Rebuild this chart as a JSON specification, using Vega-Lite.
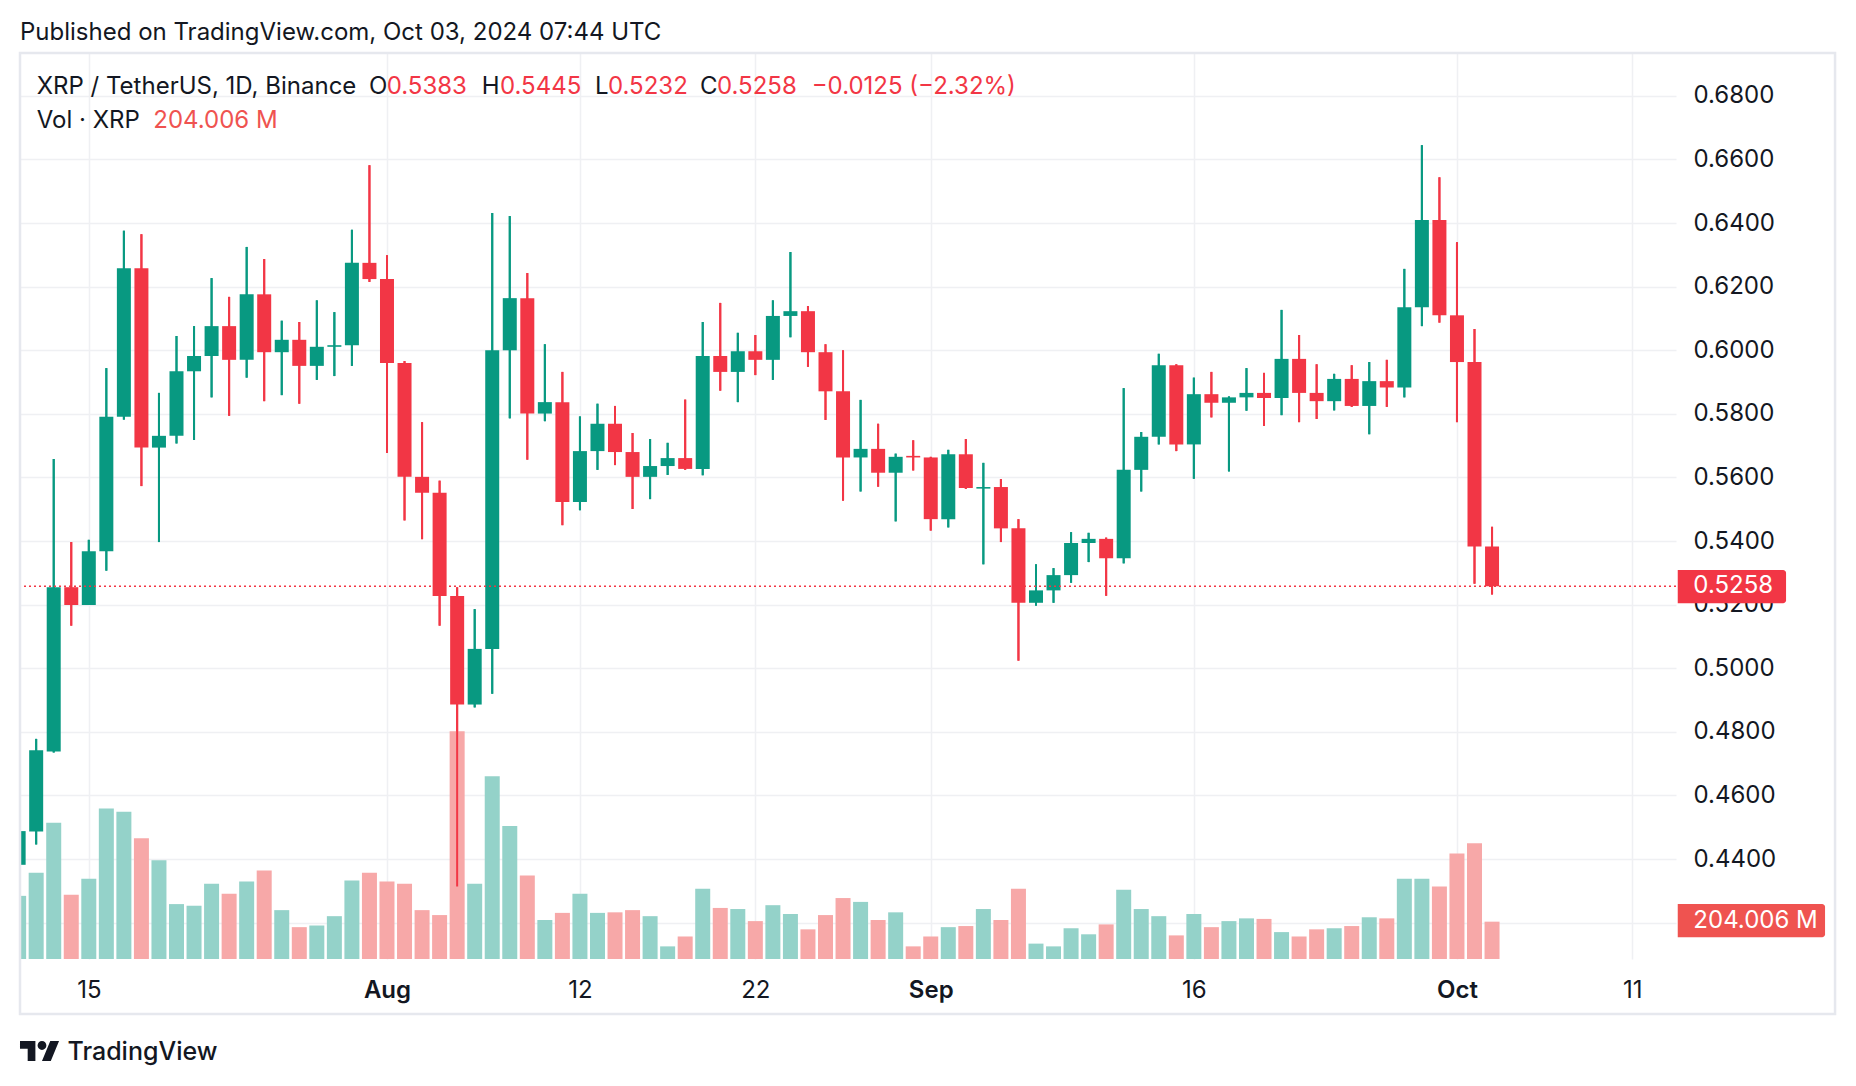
{
  "$schema": "https://vega.github.io/schema/vega-lite/v6.json",
  "width": 1656,
  "height": 906,
  "autosize": "none",
  "padding": {"left": 20, "top": 53, "right": 180, "bottom": 127},
  "background": "white",
  "config": {
    "view": {"stroke": null},
    "font": "Inter",
    "text": {"font": "Inter"},
    "scale": {"continuousPadding": 0}
  },
  "datasets": {
    "candles": [
      {"date": "2024-07-11", "o": 0.4382, "h": 0.4510, "l": 0.4360, "c": 0.4488, "vol": 345},
      {"date": "2024-07-12", "o": 0.4487, "h": 0.4778, "l": 0.4446, "c": 0.4742, "vol": 471},
      {"date": "2024-07-13", "o": 0.4738, "h": 0.5658, "l": 0.4735, "c": 0.5255, "vol": 744},
      {"date": "2024-07-14", "o": 0.5255, "h": 0.5397, "l": 0.5134, "c": 0.5199, "vol": 351},
      {"date": "2024-07-15", "o": 0.5199, "h": 0.5404, "l": 0.5199, "c": 0.5368, "vol": 438},
      {"date": "2024-07-16", "o": 0.5368, "h": 0.5944, "l": 0.5307, "c": 0.5791, "vol": 822},
      {"date": "2024-07-17", "o": 0.5791, "h": 0.6376, "l": 0.5782, "c": 0.6258, "vol": 804},
      {"date": "2024-07-18", "o": 0.6258, "h": 0.6365, "l": 0.5573, "c": 0.5694, "vol": 660},
      {"date": "2024-07-19", "o": 0.5694, "h": 0.5866, "l": 0.5397, "c": 0.5731, "vol": 540},
      {"date": "2024-07-20", "o": 0.5731, "h": 0.6045, "l": 0.5707, "c": 0.5934, "vol": 300},
      {"date": "2024-07-21", "o": 0.5934, "h": 0.6076, "l": 0.5718, "c": 0.5982, "vol": 291},
      {"date": "2024-07-22", "o": 0.5982, "h": 0.6227, "l": 0.5852, "c": 0.6076, "vol": 411},
      {"date": "2024-07-23", "o": 0.6076, "h": 0.6168, "l": 0.5794, "c": 0.5970, "vol": 357},
      {"date": "2024-07-24", "o": 0.5970, "h": 0.6325, "l": 0.5914, "c": 0.6176, "vol": 423},
      {"date": "2024-07-25", "o": 0.6176, "h": 0.6287, "l": 0.5840, "c": 0.5994, "vol": 483},
      {"date": "2024-07-26", "o": 0.5994, "h": 0.6093, "l": 0.5859, "c": 0.6033, "vol": 267},
      {"date": "2024-07-27", "o": 0.6033, "h": 0.6089, "l": 0.5832, "c": 0.5951, "vol": 174},
      {"date": "2024-07-28", "o": 0.5951, "h": 0.6157, "l": 0.5907, "c": 0.6011, "vol": 183},
      {"date": "2024-07-29", "o": 0.6011, "h": 0.6120, "l": 0.5919, "c": 0.6016, "vol": 234},
      {"date": "2024-07-30", "o": 0.6016, "h": 0.6379, "l": 0.5951, "c": 0.6275, "vol": 429},
      {"date": "2024-07-31", "o": 0.6275, "h": 0.6582, "l": 0.6215, "c": 0.6224, "vol": 471},
      {"date": "2024-08-01", "o": 0.6224, "h": 0.6299, "l": 0.5677, "c": 0.5960, "vol": 423},
      {"date": "2024-08-02", "o": 0.5960, "h": 0.5966, "l": 0.5465, "c": 0.5602, "vol": 411},
      {"date": "2024-08-03", "o": 0.5602, "h": 0.5774, "l": 0.5406, "c": 0.5552, "vol": 267},
      {"date": "2024-08-04", "o": 0.5552, "h": 0.5590, "l": 0.5134, "c": 0.5227, "vol": 240},
      {"date": "2024-08-05", "o": 0.5227, "h": 0.5255, "l": 0.4314, "c": 0.4886, "vol": 1245},
      {"date": "2024-08-06", "o": 0.4886, "h": 0.5186, "l": 0.4877, "c": 0.5061, "vol": 411},
      {"date": "2024-08-07", "o": 0.5061, "h": 0.6432, "l": 0.4920, "c": 0.6000, "vol": 999},
      {"date": "2024-08-08", "o": 0.6000, "h": 0.6422, "l": 0.5786, "c": 0.6164, "vol": 726},
      {"date": "2024-08-09", "o": 0.6164, "h": 0.6243, "l": 0.5656, "c": 0.5801, "vol": 456},
      {"date": "2024-08-10", "o": 0.5801, "h": 0.6019, "l": 0.5777, "c": 0.5837, "vol": 213},
      {"date": "2024-08-11", "o": 0.5837, "h": 0.5932, "l": 0.5450, "c": 0.5523, "vol": 252},
      {"date": "2024-08-12", "o": 0.5523, "h": 0.5792, "l": 0.5497, "c": 0.5683, "vol": 357},
      {"date": "2024-08-13", "o": 0.5683, "h": 0.5832, "l": 0.5624, "c": 0.5769, "vol": 252},
      {"date": "2024-08-14", "o": 0.5769, "h": 0.5825, "l": 0.5639, "c": 0.5680, "vol": 255},
      {"date": "2024-08-15", "o": 0.5680, "h": 0.5740, "l": 0.5501, "c": 0.5602, "vol": 267},
      {"date": "2024-08-16", "o": 0.5602, "h": 0.5721, "l": 0.5532, "c": 0.5636, "vol": 234},
      {"date": "2024-08-17", "o": 0.5636, "h": 0.5709, "l": 0.5608, "c": 0.5661, "vol": 69},
      {"date": "2024-08-18", "o": 0.5661, "h": 0.5845, "l": 0.5624, "c": 0.5627, "vol": 123},
      {"date": "2024-08-19", "o": 0.5627, "h": 0.6089, "l": 0.5607, "c": 0.5982, "vol": 384},
      {"date": "2024-08-20", "o": 0.5982, "h": 0.6149, "l": 0.5873, "c": 0.5932, "vol": 279},
      {"date": "2024-08-21", "o": 0.5932, "h": 0.6055, "l": 0.5837, "c": 0.5997, "vol": 273},
      {"date": "2024-08-22", "o": 0.5997, "h": 0.6048, "l": 0.5922, "c": 0.5970, "vol": 207},
      {"date": "2024-08-23", "o": 0.5970, "h": 0.6157, "l": 0.5907, "c": 0.6108, "vol": 294},
      {"date": "2024-08-24", "o": 0.6108, "h": 0.6309, "l": 0.6041, "c": 0.6123, "vol": 246},
      {"date": "2024-08-25", "o": 0.6123, "h": 0.6139, "l": 0.5948, "c": 0.5994, "vol": 162},
      {"date": "2024-08-26", "o": 0.5994, "h": 0.6019, "l": 0.5781, "c": 0.5871, "vol": 240},
      {"date": "2024-08-27", "o": 0.5871, "h": 0.6000, "l": 0.5527, "c": 0.5663, "vol": 333},
      {"date": "2024-08-28", "o": 0.5663, "h": 0.5844, "l": 0.5556, "c": 0.5690, "vol": 312},
      {"date": "2024-08-29", "o": 0.5690, "h": 0.5769, "l": 0.5571, "c": 0.5615, "vol": 213},
      {"date": "2024-08-30", "o": 0.5615, "h": 0.5675, "l": 0.5462, "c": 0.5665, "vol": 255},
      {"date": "2024-08-31", "o": 0.5668, "h": 0.5717, "l": 0.5622, "c": 0.5663, "vol": 69},
      {"date": "2024-09-01", "o": 0.5663, "h": 0.5665, "l": 0.5433, "c": 0.5469, "vol": 123},
      {"date": "2024-09-02", "o": 0.5469, "h": 0.5687, "l": 0.5443, "c": 0.5673, "vol": 174},
      {"date": "2024-09-03", "o": 0.5673, "h": 0.5721, "l": 0.5564, "c": 0.5567, "vol": 180},
      {"date": "2024-09-04", "o": 0.5565, "h": 0.5646, "l": 0.5327, "c": 0.5570, "vol": 273},
      {"date": "2024-09-05", "o": 0.5570, "h": 0.5595, "l": 0.5397, "c": 0.5440, "vol": 213},
      {"date": "2024-09-06", "o": 0.5440, "h": 0.5469, "l": 0.5024, "c": 0.5206, "vol": 384},
      {"date": "2024-09-07", "o": 0.5206, "h": 0.5327, "l": 0.5197, "c": 0.5245, "vol": 84},
      {"date": "2024-09-08", "o": 0.5245, "h": 0.5315, "l": 0.5206, "c": 0.5293, "vol": 69},
      {"date": "2024-09-09", "o": 0.5293, "h": 0.5428, "l": 0.5269, "c": 0.5394, "vol": 168},
      {"date": "2024-09-10", "o": 0.5394, "h": 0.5426, "l": 0.5334, "c": 0.5407, "vol": 135},
      {"date": "2024-09-11", "o": 0.5407, "h": 0.5411, "l": 0.5228, "c": 0.5346, "vol": 189},
      {"date": "2024-09-12", "o": 0.5346, "h": 0.5881, "l": 0.5330, "c": 0.5624, "vol": 378},
      {"date": "2024-09-13", "o": 0.5624, "h": 0.5743, "l": 0.5556, "c": 0.5728, "vol": 273},
      {"date": "2024-09-14", "o": 0.5728, "h": 0.5989, "l": 0.5704, "c": 0.5953, "vol": 234},
      {"date": "2024-09-15", "o": 0.5953, "h": 0.5956, "l": 0.5683, "c": 0.5704, "vol": 129},
      {"date": "2024-09-16", "o": 0.5704, "h": 0.5914, "l": 0.5596, "c": 0.5862, "vol": 246},
      {"date": "2024-09-17", "o": 0.5862, "h": 0.5932, "l": 0.5789, "c": 0.5835, "vol": 174},
      {"date": "2024-09-18", "o": 0.5835, "h": 0.5855, "l": 0.5619, "c": 0.5852, "vol": 207},
      {"date": "2024-09-19", "o": 0.5852, "h": 0.5944, "l": 0.5810, "c": 0.5866, "vol": 222},
      {"date": "2024-09-20", "o": 0.5866, "h": 0.5929, "l": 0.5762, "c": 0.5850, "vol": 219},
      {"date": "2024-09-21", "o": 0.5850, "h": 0.6127, "l": 0.5796, "c": 0.5973, "vol": 147},
      {"date": "2024-09-22", "o": 0.5973, "h": 0.6048, "l": 0.5774, "c": 0.5866, "vol": 123},
      {"date": "2024-09-23", "o": 0.5866, "h": 0.5956, "l": 0.5784, "c": 0.5840, "vol": 162},
      {"date": "2024-09-24", "o": 0.5840, "h": 0.5926, "l": 0.5811, "c": 0.5910, "vol": 168},
      {"date": "2024-09-25", "o": 0.5910, "h": 0.5953, "l": 0.5822, "c": 0.5825, "vol": 180},
      {"date": "2024-09-26", "o": 0.5825, "h": 0.5963, "l": 0.5736, "c": 0.5903, "vol": 228},
      {"date": "2024-09-27", "o": 0.5903, "h": 0.5970, "l": 0.5822, "c": 0.5883, "vol": 222},
      {"date": "2024-09-28", "o": 0.5883, "h": 0.6256, "l": 0.5852, "c": 0.6135, "vol": 438},
      {"date": "2024-09-29", "o": 0.6135, "h": 0.6645, "l": 0.6076, "c": 0.6410, "vol": 438},
      {"date": "2024-09-30", "o": 0.6410, "h": 0.6544, "l": 0.6087, "c": 0.6110, "vol": 396},
      {"date": "2024-10-01", "o": 0.6110, "h": 0.6340, "l": 0.5774, "c": 0.5963, "vol": 576},
      {"date": "2024-10-02", "o": 0.5963, "h": 0.6067, "l": 0.5266, "c": 0.5383, "vol": 633},
      {"date": "2024-10-03", "o": 0.5383, "h": 0.5445, "l": 0.5232, "c": 0.5258, "vol": 204.006}
    ]
  },
  "layer": [
    {
      "data": {"name": "candles"},
      "mark": {"type": "rule", "strokeWidth": 2, "clip": true},
      "encoding": {
        "x": {"field": "date", "type": "temporal", "title": null,
              "scale": {"type": "utc", "padding": 0, "domain": [{"year": 2024, "month": 7, "date": 11, "hours": 1, "minutes": 52, "utc": true}, {"year": 2024, "month": 10, "date": 13, "hours": 11, "minutes": 42, "utc": true}]},
              "axis": {
                "orient": "bottom",
                "values": [
                  {"year": 2024, "month": 7, "date": 15, "utc": true},
                  {"year": 2024, "month": 8, "date": 1, "utc": true},
                  {"year": 2024, "month": 8, "date": 12, "utc": true},
                  {"year": 2024, "month": 8, "date": 22, "utc": true},
                  {"year": 2024, "month": 9, "date": 1, "utc": true},
                  {"year": 2024, "month": 9, "date": 16, "utc": true},
                  {"year": 2024, "month": 10, "date": 1, "utc": true},
                  {"year": 2024, "month": 10, "date": 11, "utc": true}
                ],
                "labelExpr": "utcdate(datum.value) == 1 ? utcFormat(datum.value, '%b') : utcFormat(datum.value, '%-d')",
                "labelFontWeight": {"condition": {"test": "utcdate(datum.value) == 1", "value": 600}, "value": 400},
                "labelFont": "Inter",
                "labelFontSize": 24,
                "labelColor": "#131722",
                "labelBaseline": "top",
                "labelPadding": 19,
                "labelAlign": "center",
                "labelOverlap": false,
                "labelFlush": false,
                "ticks": false,
                "domain": false,
                "grid": true,
                "gridColor": "#EFF0F3",
                "gridWidth": 1.5,
                "title": null
              }},
        "y": {"field": "l", "type": "quantitative", "title": null,
              "scale": {"domain": [0.40858, 0.69349], "zero": false, "nice": false},
              "axis": {
                "orient": "right",
                "values": [0.42, 0.44, 0.46, 0.48, 0.5, 0.52, 0.54, 0.56, 0.58, 0.6, 0.62, 0.64, 0.66, 0.68],
                "labelExpr": "datum.value < 0.43 ? '' : format(datum.value, '.4f')",
                "labelFont": "Inter",
                "labelFontSize": 24,
                "labelColor": "#131722",
                "labelPadding": 17,
                "labelAlign": "left",
                "labelBaseline": "middle",
                "ticks": false,
                "domain": false,
                "grid": true,
                "gridColor": "#EFF0F3",
                "gridWidth": 1.5,
                "title": null
              }},
        "y2": {"field": "h"},
        "color": {"condition": {"test": "datum.c >= datum.o", "value": "#089981"}, "value": "#F23645"}
      }
    },
    {
      "data": {"name": "candles"},
      "mark": {"type": "bar", "width": 15, "clip": true},
      "encoding": {
        "x": {"field": "date", "type": "temporal", "axis": null},
        "y": {"field": "vol", "type": "quantitative", "axis": null, "scale": {"domain": [0, 4950], "nice": false}},
        "color": {"condition": {"test": "datum.c >= datum.o", "value": "#94D2C9"}, "value": "#F7A8A8"}
      }
    },
    {
      "data": {"name": "candles"},
      "mark": {"type": "rule", "strokeWidth": 2, "clip": true},
      "encoding": {
        "x": {"field": "date", "type": "temporal", "axis": null},
        "y": {"field": "l", "type": "quantitative", "axis": null, "scale": {"domain": [0.40858, 0.69349], "zero": false, "nice": false}},
        "y2": {"field": "h"},
        "color": {"condition": {"test": "datum.c >= datum.o", "value": "#089981"}, "value": "#F23645"}
      }
    },
    {
      "data": {"name": "candles"},
      "mark": {"type": "bar", "width": 14, "clip": true},
      "encoding": {
        "x": {"field": "date", "type": "temporal", "axis": null},
        "y": {"field": "o", "type": "quantitative", "axis": null, "scale": {"domain": [0.40858, 0.69349], "zero": false, "nice": false}},
        "y2": {"field": "c"},
        "color": {"condition": {"test": "datum.c >= datum.o", "value": "#089981"}, "value": "#F23645"}
      }
    },
    {
      "data": {"values": [{}]},
      "mark": {"type": "rule", "color": "#F23645", "strokeWidth": 1.5, "strokeDash": [2, 3]},
      "encoding": {
        "y": {"datum": 0.5258, "type": "quantitative", "axis": null, "scale": {"domain": [0.40858, 0.69349], "zero": false, "nice": false}}
      }
    },
    {
      "data": {"values": [{}]},
      "mark": {"type": "rect", "color": "#F23645", "cornerRadiusTopRight": 3, "cornerRadiusBottomRight": 3, "clip": false},
      "encoding": {
        "x": {"datum": {"year": 2024, "month": 10, "date": 13, "hours": 14, "minutes": 5, "utc": true}, "type": "temporal", "axis": null},
        "x2": {"datum": {"year": 2024, "month": 10, "date": 19, "hours": 18, "minutes": 17, "utc": true}},
        "y": {"datum": 0.53091, "type": "quantitative", "axis": null, "scale": {"domain": [0.40858, 0.69349], "zero": false, "nice": false}},
        "y2": {"datum": 0.52044}
      }
    },
    {
      "data": {"values": [{}]},
      "mark": {"type": "text", "text": "0.5258", "color": "white", "align": "left", "baseline": "middle", "font": "Inter", "fontSize": 24, "clip": false},
      "encoding": {
        "x": {"datum": {"year": 2024, "month": 10, "date": 14, "hours": 11, "minutes": 27, "utc": true}, "type": "temporal", "axis": null},
        "y": {"datum": 0.5258, "type": "quantitative", "axis": null, "scale": {"domain": [0.40858, 0.69349], "zero": false, "nice": false}}
      }
    },
    {
      "data": {"values": [{}]},
      "mark": {"type": "rect", "color": "#EF5350", "cornerRadiusTopRight": 3, "cornerRadiusBottomRight": 3, "clip": false},
      "encoding": {
        "x": {"datum": {"year": 2024, "month": 10, "date": 13, "hours": 14, "minutes": 5, "utc": true}, "type": "temporal", "axis": null},
        "x2": {"datum": {"year": 2024, "month": 10, "date": 21, "hours": 23, "minutes": 38, "utc": true}},
        "y": {"datum": 300.5, "type": "quantitative", "axis": null, "scale": {"domain": [0, 4950], "nice": false}},
        "y2": {"datum": 118.6}
      }
    },
    {
      "data": {"values": [{}]},
      "mark": {"type": "text", "text": "204.006 M", "color": "white", "align": "left", "baseline": "middle", "font": "Inter", "fontSize": 24, "clip": false},
      "encoding": {
        "x": {"datum": {"year": 2024, "month": 10, "date": 14, "hours": 11, "minutes": 27, "utc": true}, "type": "temporal", "axis": null},
        "y": {"datum": 207, "type": "quantitative", "axis": null, "scale": {"domain": [0, 4950], "nice": false}}
      }
    },
    {
      "data": {"values": [{}]},
      "mark": {"type": "rect", "fillOpacity": 0, "stroke": "#E6E8EE", "strokeWidth": 2.5, "clip": false},
      "encoding": {
        "x": {"datum": {"year": 2024, "month": 7, "date": 11, "hours": 1, "minutes": 52, "utc": true}, "type": "temporal", "axis": null},
        "x2": {"datum": {"year": 2024, "month": 10, "date": 22, "hours": 13, "minutes": 19, "utc": true}},
        "y": {"datum": 0.69349, "type": "quantitative", "axis": null, "scale": {"domain": [0.40858, 0.69349], "zero": false, "nice": false}},
        "y2": {"datum": 0.39129}
      }
    },
    {
      "data": {"values": [{}]},
      "mark": {"type": "text", "text": "Published on TradingView.com, Oct 03, 2024 07:44 UTC", "color": "#131722", "align": "left", "baseline": "alphabetic", "font": "Inter", "fontSize": 24, "clip": false},
      "encoding": {
        "x": {"datum": {"year": 2024, "month": 7, "date": 11, "hours": 1, "minutes": 52, "utc": true}, "type": "temporal", "axis": null},
        "y": {"datum": 0.69758, "type": "quantitative", "axis": null, "scale": {"domain": [0.40858, 0.69349], "zero": false, "nice": false}}
      }
    },
    {
      "data": {"values": [{}]},
      "mark": {"type": "text", "text": "XRP / TetherUS, 1D, Binance", "color": "#131722", "align": "left", "baseline": "alphabetic", "font": "Inter", "fontSize": 24, "clip": false},
      "encoding": {
        "x": {"datum": {"year": 2024, "month": 7, "date": 12, "hours": 0, "minutes": 43, "utc": true}, "type": "temporal", "axis": null},
        "y": {"datum": 0.6805, "type": "quantitative", "axis": null, "scale": {"domain": [0.40858, 0.69349], "zero": false, "nice": false}}
      }
    },
    {
      "data": {"values": [{}]},
      "mark": {"type": "text", "text": "O", "color": "#131722", "align": "left", "baseline": "alphabetic", "font": "Inter", "fontSize": 24, "clip": false},
      "encoding": {
        "x": {"datum": {"year": 2024, "month": 7, "date": 30, "hours": 23, "minutes": 24, "utc": true}, "type": "temporal", "axis": null},
        "y": {"datum": 0.6805, "type": "quantitative", "axis": null, "scale": {"domain": [0.40858, 0.69349], "zero": false, "nice": false}}
      }
    },
    {
      "data": {"values": [{}]},
      "mark": {"type": "text", "text": "0.5383", "color": "#F23645", "align": "left", "baseline": "alphabetic", "font": "Inter", "fontSize": 24, "clip": false},
      "encoding": {
        "x": {"datum": {"year": 2024, "month": 7, "date": 31, "hours": 23, "minutes": 37, "utc": true}, "type": "temporal", "axis": null},
        "y": {"datum": 0.6805, "type": "quantitative", "axis": null, "scale": {"domain": [0.40858, 0.69349], "zero": false, "nice": false}}
      }
    },
    {
      "data": {"values": [{}]},
      "mark": {"type": "text", "text": "H", "color": "#131722", "align": "left", "baseline": "alphabetic", "font": "Inter", "fontSize": 24, "clip": false},
      "encoding": {
        "x": {"datum": {"year": 2024, "month": 8, "date": 6, "hours": 9, "minutes": 36, "utc": true}, "type": "temporal", "axis": null},
        "y": {"datum": 0.6805, "type": "quantitative", "axis": null, "scale": {"domain": [0.40858, 0.69349], "zero": false, "nice": false}}
      }
    },
    {
      "data": {"values": [{}]},
      "mark": {"type": "text", "text": "0.5445", "color": "#F23645", "align": "left", "baseline": "alphabetic", "font": "Inter", "fontSize": 24, "clip": false},
      "encoding": {
        "x": {"datum": {"year": 2024, "month": 8, "date": 7, "hours": 10, "minutes": 39, "utc": true}, "type": "temporal", "axis": null},
        "y": {"datum": 0.6805, "type": "quantitative", "axis": null, "scale": {"domain": [0.40858, 0.69349], "zero": false, "nice": false}}
      }
    },
    {
      "data": {"values": [{}]},
      "mark": {"type": "text", "text": "L", "color": "#131722", "align": "left", "baseline": "alphabetic", "font": "Inter", "fontSize": 24, "clip": false},
      "encoding": {
        "x": {"datum": {"year": 2024, "month": 8, "date": 12, "hours": 20, "minutes": 38, "utc": true}, "type": "temporal", "axis": null},
        "y": {"datum": 0.6805, "type": "quantitative", "axis": null, "scale": {"domain": [0.40858, 0.69349], "zero": false, "nice": false}}
      }
    },
    {
      "data": {"values": [{}]},
      "mark": {"type": "text", "text": "0.5232", "color": "#F23645", "align": "left", "baseline": "alphabetic", "font": "Inter", "fontSize": 24, "clip": false},
      "encoding": {
        "x": {"datum": {"year": 2024, "month": 8, "date": 13, "hours": 14, "minutes": 25, "utc": true}, "type": "temporal", "axis": null},
        "y": {"datum": 0.6805, "type": "quantitative", "axis": null, "scale": {"domain": [0.40858, 0.69349], "zero": false, "nice": false}}
      }
    },
    {
      "data": {"values": [{}]},
      "mark": {"type": "text", "text": "C", "color": "#131722", "align": "left", "baseline": "alphabetic", "font": "Inter", "fontSize": 24, "clip": false},
      "encoding": {
        "x": {"datum": {"year": 2024, "month": 8, "date": 18, "hours": 20, "minutes": 18, "utc": true}, "type": "temporal", "axis": null},
        "y": {"datum": 0.6805, "type": "quantitative", "axis": null, "scale": {"domain": [0.40858, 0.69349], "zero": false, "nice": false}}
      }
    },
    {
      "data": {"values": [{}]},
      "mark": {"type": "text", "text": "0.5258", "color": "#F23645", "align": "left", "baseline": "alphabetic", "font": "Inter", "fontSize": 24, "clip": false},
      "encoding": {
        "x": {"datum": {"year": 2024, "month": 8, "date": 19, "hours": 19, "minutes": 34, "utc": true}, "type": "temporal", "axis": null},
        "y": {"datum": 0.6805, "type": "quantitative", "axis": null, "scale": {"domain": [0.40858, 0.69349], "zero": false, "nice": false}}
      }
    },
    {
      "data": {"values": [{}]},
      "mark": {"type": "text", "text": "−0.0125 (−2.32%)", "color": "#F23645", "align": "left", "baseline": "alphabetic", "font": "Inter", "fontSize": 24, "clip": false},
      "encoding": {
        "x": {"datum": {"year": 2024, "month": 8, "date": 25, "hours": 5, "minutes": 10, "utc": true}, "type": "temporal", "axis": null},
        "y": {"datum": 0.6805, "type": "quantitative", "axis": null, "scale": {"domain": [0.40858, 0.69349], "zero": false, "nice": false}}
      }
    },
    {
      "data": {"values": [{}]},
      "mark": {"type": "text", "text": "Vol · XRP", "color": "#131722", "align": "left", "baseline": "alphabetic", "font": "Inter", "fontSize": 24, "clip": false},
      "encoding": {
        "x": {"datum": {"year": 2024, "month": 7, "date": 12, "hours": 0, "minutes": 43, "utc": true}, "type": "temporal", "axis": null},
        "y": {"datum": 0.6698, "type": "quantitative", "axis": null, "scale": {"domain": [0.40858, 0.69349], "zero": false, "nice": false}}
      }
    },
    {
      "data": {"values": [{}]},
      "mark": {"type": "text", "text": "204.006 M", "color": "#EF5350", "align": "left", "baseline": "alphabetic", "font": "Inter", "fontSize": 24, "clip": false},
      "encoding": {
        "x": {"datum": {"year": 2024, "month": 7, "date": 18, "hours": 16, "minutes": 15, "utc": true}, "type": "temporal", "axis": null},
        "y": {"datum": 0.6698, "type": "quantitative", "axis": null, "scale": {"domain": [0.40858, 0.69349], "zero": false, "nice": false}}
      }
    },
    {
      "data": {"values": [{}]},
      "mark": {"type": "point", "shape": "M-0.2222,0.5H-0.6111V-0.1111H-1V-0.5H-0.2222Z M0.5556,0.5H0.1111L0.5278,-0.5H0.9722Z M-0.1111,-0.2778A0.2222,0.2222 0 1 0 0.3333,-0.2778A0.2222,0.2222 0 1 0 -0.1111,-0.2778Z", "size": 1570, "filled": true, "color": "#131722", "opacity": 1, "clip": false},
      "encoding": {
        "x": {"datum": {"year": 2024, "month": 7, "date": 12, "hours": 4, "minutes": 57, "utc": true}, "type": "temporal", "axis": null},
        "y": {"datum": 0.37965, "type": "quantitative", "axis": null, "scale": {"domain": [0.40858, 0.69349], "zero": false, "nice": false}}
      }
    },
    {
      "data": {"values": [{}]},
      "mark": {"type": "text", "text": "TradingView", "color": "#131722", "align": "left", "baseline": "alphabetic", "font": "Inter", "fontSize": 25, "fontWeight": 500, "clip": false},
      "encoding": {
        "x": {"datum": {"year": 2024, "month": 7, "date": 13, "hours": 18, "minutes": 52, "utc": true}, "type": "temporal", "axis": null},
        "y": {"datum": 0.37695, "type": "quantitative", "axis": null, "scale": {"domain": [0.40858, 0.69349], "zero": false, "nice": false}}
      }
    }
  ],
  "resolve": {"scale": {"y": "independent"}, "axis": {"x": "independent"}}
}
